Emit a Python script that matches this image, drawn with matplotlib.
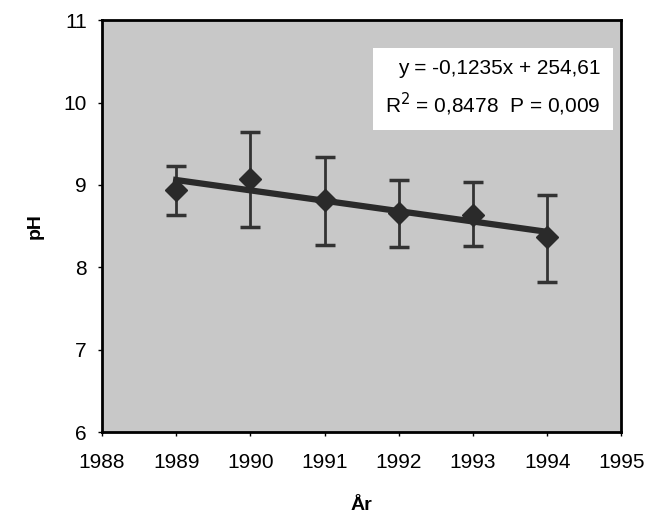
import matplotlib.pyplot as plt

plt.rcParams['font.family'] = ['Liberation Sans', 'DejaVu Sans']

years = [1989, 1990, 1991, 1992, 1993, 1994]
ph = [8.94, 9.07, 8.82, 8.66, 8.64, 8.37]
err_lo = [0.30, 0.58, 0.55, 0.41, 0.38, 0.55]
err_hi = [0.29, 0.57, 0.52, 0.40, 0.39, 0.51]
# trend line as drawn in the figure (ends at 1989 and 1994)
fit_years = [1989, 1994]
fit_ph = [9.06, 8.43]
eq_text = 'y = -0,1235x + 254,61\nR$^2$ = 0,8478  P = 0,009'

fig = plt.figure(figsize=(6.6, 5.18), dpi=100)
ax = fig.add_axes([0.1545, 0.166, 0.787, 0.795])
ax.set_facecolor('#c8c8c8')

ax.errorbar(years, ph, yerr=[err_lo, err_hi], fmt='none', ecolor='#333333',
            elinewidth=2, capsize=7, capthick=2.5, zorder=2)
ax.plot(fit_years, fit_ph, color='#2a2a2a', lw=4.5, zorder=3)
ax.plot(years, ph, 'D', color='#2a2a2a', ms=11, zorder=4)

ax.text(0.96, 0.905, eq_text, transform=ax.transAxes, ha='right', va='top',
        fontsize=15, linespacing=1.55,
        bbox=dict(boxstyle='square,pad=0.6', fc='white', ec='none'))

ax.set_xlim(1988, 1995)
ax.set_ylim(6, 11)
ax.set_xticks(range(1988, 1996))
ax.set_yticks(range(6, 12))
ax.tick_params(axis='both', labelsize=15, length=3, width=1, direction='out')
ax.tick_params(axis='x', pad=12)
ax.tick_params(axis='y', pad=8)
for s in ax.spines.values():
    s.set_linewidth(2)
ax.set_ylabel('pH', fontsize=14, fontweight='bold', labelpad=14)
ax.set_xlabel('År', fontsize=14, fontweight='bold', labelpad=18)

fig.savefig('out.png', dpi=100)
